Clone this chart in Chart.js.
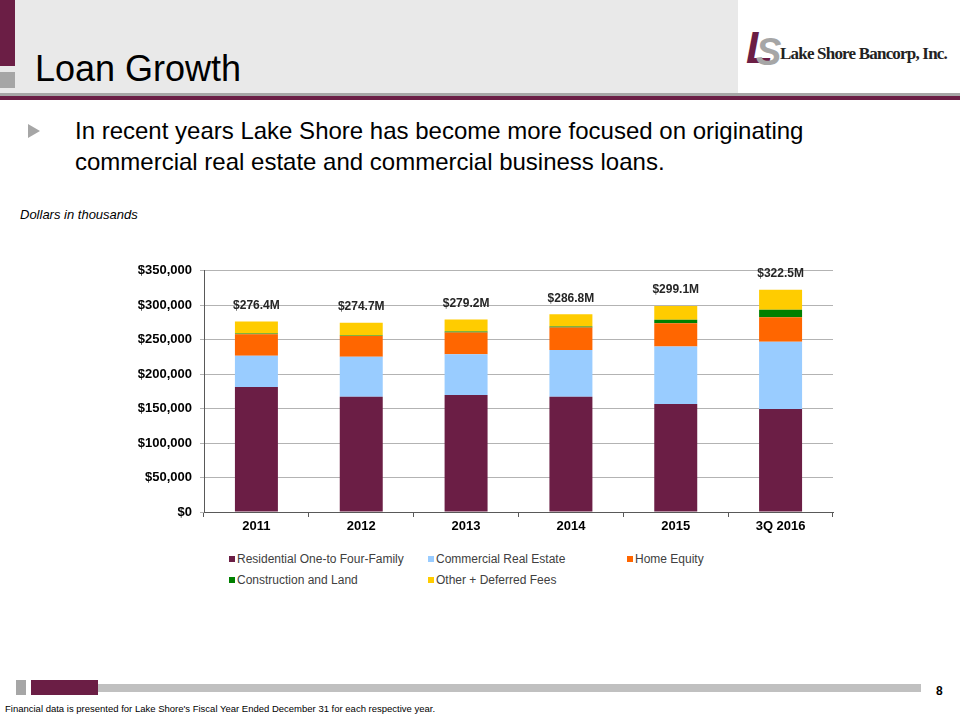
<!DOCTYPE html>
<html>
<head>
<meta charset="utf-8">
<title>Loan Growth</title>
<script src="https://cdn.jsdelivr.net/npm/chart.js@4.4.0/dist/chart.umd.min.js"></script>
<style>
    body { margin: 0; width: 960px; height: 720px; position: relative; background: #fff; font-family: "Liberation Sans", Arial, sans-serif; overflow: hidden; }
    .abs { position: absolute; }
    #header { left: 0; top: 0; width: 738px; height: 93px; background: #e9e9e9; }
    #logo { left: 738px; top: 0; width: 222px; height: 93px; background: #fff; }
    #title { left: 35px; top: 47px; font-size: 36px; color: #000; line-height: 44px; }
    #bullet { left: 28px; top: 124px; width: 0; height: 0; border-top: 7px solid transparent; border-bottom: 7px solid transparent; border-left: 12px solid #a6a6a6; }
    #bulletText { left: 75px; top: 115px; font-size: 24px; line-height: 31px; color: #000; }
    #units { left: 20px; top: 207px; font-size: 13px; font-style: italic; color: #000; }
    #chartBox { left: 100px; top: 255px; width: 750px; height: 295px; }
    #legend { left: 0; top: 0; font-size: 12px; color: #404040; }
    .leg { position: absolute; white-space: nowrap; line-height: 14px; }
    .leg i { display: inline-block; width: 6px; height: 6px; margin-right: 2px; vertical-align: 1px; }
    #footnote { left: 5px; top: 703px; font-size: 9.5px; color: #000; }
    #pageNum { left: 936px; top: 684px; font-size: 12px; font-weight: bold; color: #000; }
</style>
</head>
<body>
<div class="abs" id="header"></div>
<div class="abs" style="left:0;top:0;width:15px;height:66px;background:#6b1e45"></div>
<div class="abs" style="left:0;top:72px;width:15px;height:16px;background:#a6a6a6"></div>
<div class="abs" id="logo"></div>
<div class="abs" style="left:746px;top:24px;font-family:'Liberation Sans',sans-serif;font-weight:bold;font-style:italic;font-size:44px;color:#6b1e45;line-height:48px;">L</div>
<div class="abs" style="left:756px;top:32px;font-family:'Liberation Sans',sans-serif;font-weight:bold;font-style:italic;font-size:38px;color:#a6a6a6;line-height:40px;">S</div>
<div class="abs" style="left:780px;top:44px;font-family:'Liberation Serif',serif;font-weight:bold;font-size:17px;letter-spacing:-0.8px;color:#222;line-height:20px;">Lake Shore Bancorp, Inc.</div>
<div class="abs" style="left:0;top:93px;width:960px;height:3px;background:#a6a6a6"></div>
<div class="abs" style="left:0;top:96px;width:960px;height:4px;background:#6b1e45"></div>
<div class="abs" id="title">Loan Growth</div>
<div class="abs" id="bullet"></div>
<div class="abs" id="bulletText">In recent years Lake Shore has become more focused on originating<br>commercial real estate and commercial business loans.</div>
<div class="abs" id="units">Dollars in thousands</div>
<div class="abs" id="chartBox"><canvas id="loanChart"></canvas></div>
<div class="abs" id="legend"></div>
<div class="abs" style="left:16px;top:680px;width:10px;height:15px;background:#a6a6a6"></div>
<div class="abs" style="left:31px;top:680px;width:67px;height:15px;background:#6b1e45"></div>
<div class="abs" style="left:98px;top:684px;width:823px;height:8px;background:#c0c0c0"></div>
<div class="abs" id="pageNum">8</div>
<div class="abs" id="footnote">Financial data is presented for Lake Shore's Fiscal Year Ended December 31 for each respective year.</div>

<script>
// Loan balances by period, dollars in thousands
const periods = ['2011', '2012', '2013', '2014', '2015', '3Q 2016'];
const residential = [181300, 167200, 169700, 167200, 156600, 149300];
const commercialRealEstate = [45500, 58200, 59200, 67900, 83400, 97900];
const homeEquity = [31200, 30100, 31400, 32500, 34000, 35500];
const constructionLand = [1000, 500, 1500, 1500, 4800, 10600];
const otherDeferred = [17400, 18700, 17400, 17700, 20300, 29200];
const totalLabels = ['$276.4M', '$274.7M', '$279.2M', '$286.8M', '$299.1M', '$322.5M'];
const yTicks = [0, 50000, 100000, 150000, 200000, 250000, 300000, 350000];

const FONT = '"Liberation Sans", Arial, sans-serif';

// Draws the total label above each stacked bar
const totalsPlugin = {
    id: 'totals',
    afterDatasetsDraw(chart) {
        const ctx = chart.ctx;
        const last = chart.getDatasetMeta(chart.data.datasets.length - 1);
        ctx.save();
        ctx.font = 'bold 12px ' + FONT;
        ctx.fillStyle = '#262626';
        ctx.textAlign = 'center';
        ctx.textBaseline = 'middle';
        last.data.forEach((bar, i) => {
            ctx.fillText(totalLabels[i], bar.x, bar.y - 16);
        });
        ctx.restore();
    }
};

const ctx = document.getElementById('loanChart').getContext('2d');
const loanChart = new Chart(ctx, {
    type: 'bar',
    data: {
        labels: periods,
        datasets: [
            { label: 'Residential One-to Four-Family', data: residential, backgroundColor: '#6b1e45' },
            { label: 'Commercial Real Estate', data: commercialRealEstate, backgroundColor: '#99ccff' },
            { label: 'Home Equity', data: homeEquity, backgroundColor: '#ff6600' },
            { label: 'Construction and Land', data: constructionLand, backgroundColor: '#008000' },
            { label: 'Other + Deferred Fees', data: otherDeferred, backgroundColor: '#ffcc00' }
        ]
    },
    options: {
        responsive: true,
        maintainAspectRatio: false,
        animation: false,
        layout: { padding: { top: 0, right: 17, left: 0, bottom: 0 } },
        datasets: { bar: { barPercentage: 0.41, categoryPercentage: 1 } },
        scales: {
            x: {
                stacked: true,
                afterFit: (scale) => { scale.height = 38; },
                grid: { drawOnChartArea: false, drawTicks: true, tickLength: 5, color: '#595959', offset: true },
                border: { color: '#595959', width: 1 },
                ticks: { color: '#000', font: { family: FONT, size: 13, weight: 'bold' }, padding: 2 }
            },
            y: {
                stacked: true,
                min: 0,
                max: 350000,
                afterFit: (scale) => { scale.width = 104; },
                afterBuildTicks: (scale) => { scale.ticks = yTicks.map(v => ({ value: v })); },
                grid: { color: '#b3b3b3', tickLength: 4, drawTicks: true },
                border: { color: '#595959', width: 1 },
                ticks: {
                    color: '#000',
                    padding: 8,
                    font: { family: FONT, size: 13, weight: 'bold' },
                    callback: (v) => '$' + v.toLocaleString('en-US')
                }
            }
        },
        plugins: {
            legend: { display: false },
            tooltip: { enabled: false }
        }
    },
    plugins: [totalsPlugin]
});

// HTML legend built from the datasets, three columns
const legendCols = [229, 428, 627];
const legendRows = [552, 573];
const legendEl = document.getElementById('legend');
loanChart.data.datasets.forEach((ds, i) => {
    const item = document.createElement('div');
    item.className = 'leg';
    item.style.left = legendCols[i % 3] + 'px';
    item.style.top = legendRows[Math.floor(i / 3)] + 'px';
    item.innerHTML = '<i style="background:' + ds.backgroundColor + '"></i>' + ds.label;
    legendEl.appendChild(item);
});
</script>
</body>
</html>
